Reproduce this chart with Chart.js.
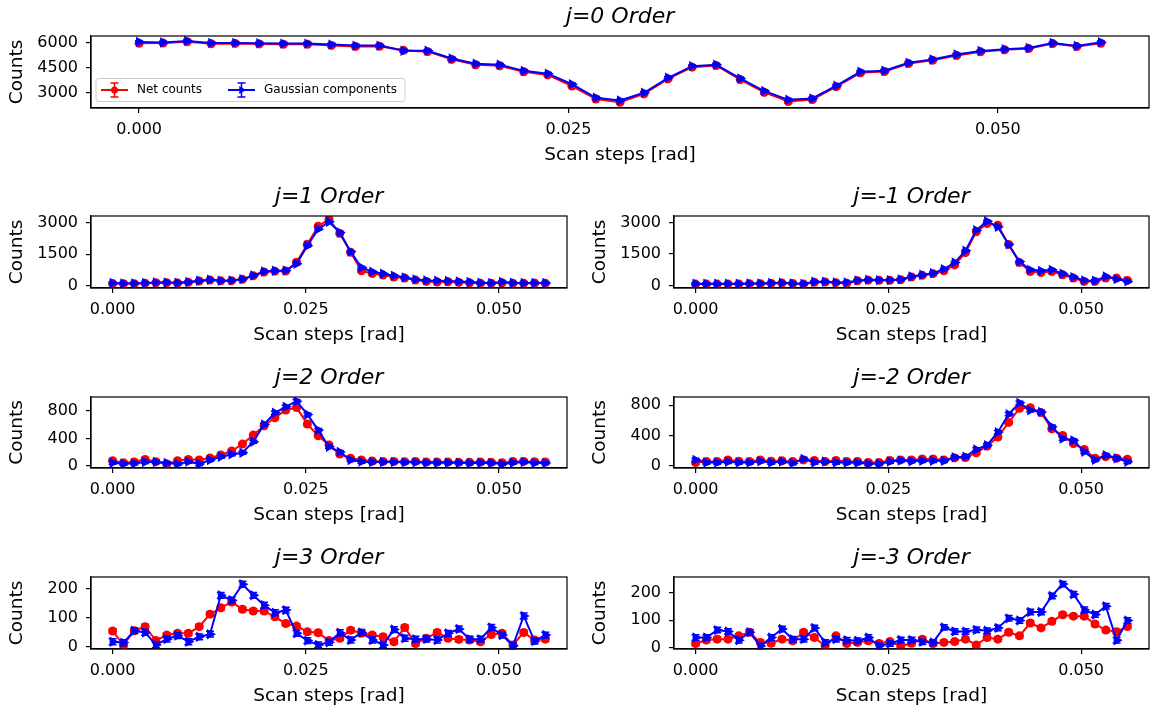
<!DOCTYPE html>
<html>
<head>
<meta charset="utf-8">
<script src="https://cdn.jsdelivr.net/npm/chart.js@4.4.0/dist/chart.umd.min.js"></script>
<style>
    html, body { margin: 0; padding: 0; background: #fff; }
    #wrap { position: relative; width: 1153px; height: 708px; overflow: hidden; }
    #wrap canvas { position: absolute; }
</style>
</head>
<body>
<div id="wrap"></div>
<script>
// scan positions [rad]
const scanSteps = [0, 0.0014, 0.0028, 0.0042, 0.0056, 0.007, 0.0084, 0.0098, 0.0112, 0.0126,
    0.014, 0.0154, 0.0168, 0.0182, 0.0196, 0.021, 0.0224, 0.0238, 0.0252, 0.0266,
    0.028, 0.0294, 0.0308, 0.0322, 0.0336, 0.035, 0.0364, 0.0378, 0.0392, 0.0406,
    0.042, 0.0434, 0.0448, 0.0462, 0.0476, 0.049, 0.0504, 0.0518, 0.0532, 0.0546, 0.056];
const xTickValues = [0, 0.025, 0.05];

const j0Net = [5960, 5970, 6050, 5930, 5950, 5920, 5900, 5900, 5830, 5760, 5780, 5540, 5460, 5000, 4680, 4620, 4260, 4080, 3420, 2650, 2450, 2950, 3840, 4540, 4640, 3800, 3040, 2500, 2620, 3380, 4200, 4280, 4750, 4950, 5230, 5450, 5570, 5650, 5940, 5760, 5960];
const j0Gauss = [6040, 6000, 6100, 5980, 5980, 5960, 5940, 5940, 5880, 5820, 5820, 5510, 5510, 5050, 4740, 4680, 4320, 4145, 3530, 2720, 2560, 3020, 3910, 4600, 4680, 3870, 3120, 2600, 2680, 3440, 4265, 4325, 4800, 4995, 5290, 5505, 5600, 5680, 5975, 5800, 6020];

const j1Net = [100, 90, 95, 110, 140, 140, 130, 160, 220, 270, 230, 240, 300, 470, 650, 690, 700, 1115, 1963, 2827, 3157, 2482, 1586, 707, 581, 503, 408, 361, 267, 204, 173, 188, 157, 141, 110, 110, 141, 110, 110, 126, 110];
const j1Gauss = [126, 110, 110, 126, 157, 157, 141, 173, 236, 283, 236, 251, 314, 487, 675, 707, 722, 1037, 1900, 2686, 3031, 2529, 1618, 864, 660, 565, 471, 393, 298, 251, 236, 220, 204, 173, 141, 126, 173, 141, 126, 126, 126];

const jm1Net = [60, 60, 60, 70, 70, 80, 80, 95, 110, 90, 70, 150, 160, 130, 100, 220, 250, 240, 240, 270, 400, 480, 560, 700, 979, 1563, 2558, 2953, 2874, 1958, 1090, 663, 616, 663, 505, 347, 189, 189, 347, 347, 237];
const jm1Gauss = [79, 79, 79, 79, 79, 95, 95, 110, 126, 95, 79, 174, 174, 142, 142, 237, 268, 253, 253, 284, 426, 505, 584, 774, 1090, 1658, 2637, 3063, 2795, 1958, 1137, 742, 695, 742, 553, 395, 237, 221, 426, 300, 189];

const j2Net = [77, 48, 58, 96, 63, 29, 77, 96, 87, 116, 159, 217, 318, 448, 583, 699, 810, 848, 607, 439, 304, 173, 111, 87, 72, 67, 67, 63, 67, 58, 58, 58, 53, 53, 58, 53, 48, 67, 67, 63, 58];
const j2Gauss = [48, 34, 39, 58, 58, 43, 29, 63, 29, 87, 135, 169, 193, 352, 602, 771, 858, 940, 747, 520, 280, 202, 87, 63, 58, 58, 58, 53, 53, 48, 48, 48, 48, 43, 48, 43, 29, 48, 58, 43, 43];

const jm2Net = [43, 56, 56, 77, 60, 56, 77, 60, 65, 56, 77, 69, 56, 69, 56, 56, 43, 43, 69, 77, 77, 90, 90, 77, 103, 108, 172, 258, 378, 572, 757, 765, 701, 486, 400, 292, 215, 99, 120, 99, 86];
const jm2Gauss = [77, 43, 43, 52, 43, 43, 60, 43, 56, 34, 90, 43, 56, 43, 43, 39, 26, 26, 56, 69, 60, 65, 65, 65, 112, 120, 215, 271, 443, 680, 830, 731, 710, 516, 357, 335, 185, 77, 138, 99, 52];

const j3Net = [54, 6, 55, 69, 21, 40, 46, 46, 69, 112, 134, 154, 129, 123, 123, 103, 80, 71, 51, 48, 21, 29, 57, 46, 40, 34, 17, 66, 11, 29, 49, 29, 25, 23, 17, 42, 46, 6, 49, 23, 26];
const j3Gauss = [17, 14, 55, 49, 6, 26, 38, 17, 34, 43, 177, 160, 215, 177, 143, 117, 126, 46, 21, 6, 15, 48, 23, 49, 23, 6, 59, 29, 26, 26, 23, 46, 61, 26, 26, 66, 40, 3, 106, 19, 40];

const jm3Net = [15, 28, 31, 31, 43, 56, 19, 16, 31, 25, 56, 37, 6, 43, 15, 19, 25, 15, 22, 6, 16, 31, 15, 19, 22, 31, 10, 37, 31, 56, 43, 90, 72, 96, 120, 115, 115, 86, 64, 58, 77];
const jm3Gauss = [37, 37, 64, 59, 27, 56, 6, 37, 68, 31, 31, 72, 19, 31, 27, 25, 37, 6, 15, 28, 28, 21, 19, 74, 59, 59, 65, 62, 72, 107, 99, 130, 130, 189, 232, 195, 138, 121, 151, 27, 99];

// typical error bar half widths per panel (j=0, 1, -1, 2, -2, 3, -3)
const netErr = [75, 45, 45, 22, 22, 8, 8];
const gaussErr = [75, 45, 45, 22, 22, 10, 10];

const FONT = "'DejaVu Sans', sans-serif";
Chart.defaults.font.family = FONT;
Chart.defaults.color = '#000';

// box = [left, top, right, bottom] of the plot area in page pixels
const panels = [
    {title: 'j=0 Order', net: j0Net, gauss: j0Gauss, err: 0, box: [91, 36, 1151, 108], ymin: 2114, ymax: 6390, yticks: [3000, 4500, 6000], legend: true},
    {title: 'j=1 Order', net: j1Net, gauss: j1Gauss, err: 1, box: [91, 216, 569, 288], ymin: -110, ymax: 3310, yticks: [0, 1500, 3000]},
    {title: 'j=-1 Order', net: jm1Net, gauss: jm1Gauss, err: 2, box: [674, 216, 1151, 288], ymin: -126, ymax: 3316, yticks: [0, 1500, 3000]},
    {title: 'j=2 Order', net: j2Net, gauss: j2Gauss, err: 3, box: [91, 397, 569, 468], ymin: -29, ymax: 1000, yticks: [0, 400, 800]},
    {title: 'j=-2 Order', net: jm2Net, gauss: jm2Gauss, err: 4, box: [674, 397, 1151, 468], ymin: -30, ymax: 907, yticks: [0, 400, 800]},
    {title: 'j=3 Order', net: j3Net, gauss: j3Gauss, err: 5, box: [91, 577, 569, 649], ymin: -8, ymax: 240, yticks: [0, 100, 200]},
    {title: 'j=-3 Order', net: jm3Net, gauss: jm3Gauss, err: 6, box: [674, 577, 1151, 649], ymin: -5, ymax: 258, yticks: [0, 100, 200]}
];

function drawTriangle(ctx, x, y, r) {
    ctx.beginPath();
    ctx.moveTo(x + r, y);
    ctx.lineTo(x - r / 2, y - r * 0.866);
    ctx.lineTo(x - r / 2, y + r * 0.866);
    ctx.closePath();
    ctx.fill();
}

// error bars, axes frame and the legend of the top panel
const extrasPlugin = {
    id: 'extras',
    afterDatasetDraw(chart, args) {
        const ds = chart.data.datasets[args.index];
        const yScale = chart.scales.y;
        const ctx = chart.ctx;
        ctx.save();
        ctx.strokeStyle = ds.borderColor;
        ctx.lineWidth = 1.5;
        args.meta.data.forEach((pt, i) => {
            const v = ds.data[i].y;
            const yt = yScale.getPixelForValue(v + ds.errSize);
            const yb = yScale.getPixelForValue(v - ds.errSize);
            ctx.beginPath();
            ctx.moveTo(pt.x, yt); ctx.lineTo(pt.x, yb);
            ctx.moveTo(pt.x - 4, yt); ctx.lineTo(pt.x + 4, yt);
            ctx.moveTo(pt.x - 4, yb); ctx.lineTo(pt.x + 4, yb);
            ctx.stroke();
        });
        ctx.restore();
    },
    afterDraw(chart, args, opts) {
        const ctx = chart.ctx;
        const a = chart.chartArea;
        ctx.save();
        ctx.strokeStyle = '#000';
        ctx.lineWidth = 1.2;
        ctx.strokeRect(a.left, a.top, a.right - a.left, a.bottom - a.top);
        if (opts.legend) {
            const lx = a.left + 5, ly = a.bottom - 29.5, lw = 309, lh = 23;
            ctx.beginPath();
            ctx.roundRect(lx, ly, lw, lh, 3);
            ctx.fillStyle = 'rgba(255,255,255,0.8)';
            ctx.fill();
            ctx.strokeStyle = '#cccccc';
            ctx.lineWidth = 1;
            ctx.stroke();
            const cy = ly + lh / 2;
            const items = [
                {label: 'Net counts', color: '#ff0000', x0: lx + 5, marker: 'circle'},
                {label: 'Gaussian components', color: '#0000ff', x0: lx + 132, marker: 'triangle'}
            ];
            items.forEach(it => {
                const xm = it.x0 + 13.5;
                ctx.strokeStyle = it.color;
                ctx.fillStyle = it.color;
                ctx.lineWidth = 2;
                ctx.beginPath();
                ctx.moveTo(it.x0, cy); ctx.lineTo(it.x0 + 27, cy);
                ctx.stroke();
                ctx.lineWidth = 1.5;
                ctx.beginPath();
                ctx.moveTo(xm, cy - 7); ctx.lineTo(xm, cy + 7);
                ctx.moveTo(xm - 4, cy - 7); ctx.lineTo(xm + 4, cy - 7);
                ctx.moveTo(xm - 4, cy + 7); ctx.lineTo(xm + 4, cy + 7);
                ctx.stroke();
                if (it.marker === 'circle') {
                    ctx.beginPath();
                    ctx.arc(xm, cy, 3.5, 0, Math.PI * 2);
                    ctx.fill();
                } else {
                    drawTriangle(ctx, xm, cy, 4.5);
                }
                ctx.fillStyle = '#000';
                ctx.font = '12px ' + FONT;
                ctx.textBaseline = 'middle';
                ctx.textAlign = 'left';
                ctx.fillText(it.label, it.x0 + 36, cy);
            });
        }
        ctx.restore();
    }
};

const wrap = document.getElementById('wrap');
const L = 85, R = 4, T = 32, B = 58;
const TITLE_SIZE = 22;

function makePanel(p) {
    const w = p.box[2] - p.box[0] + L + R;
    const h = p.box[3] - p.box[1] + T + B;
    const canvas = document.createElement('canvas');
    canvas.width = w;
    canvas.height = h;
    canvas.style.left = (p.box[0] - L) + 'px';
    canvas.style.top = (p.box[1] - T) + 'px';
    canvas.style.width = w + 'px';
    canvas.style.height = h + 'px';
    wrap.appendChild(canvas);

    const axisCommon = {
        grid: {drawOnChartArea: false, drawTicks: true, tickLength: 5, color: '#000', tickColor: '#000', lineWidth: 1.2},
        border: {display: true, color: '#000', width: 1.2}
    };

    new Chart(canvas, {
        type: 'line',
        data: {
            datasets: [
                {
                    label: 'Net counts',
                    data: scanSteps.map((x, i) => ({x: x, y: p.net[i]})),
                    errSize: netErr[p.err],
                    borderColor: '#ff0000',
                    backgroundColor: '#ff0000',
                    borderWidth: 2,
                    pointStyle: 'circle',
                    pointRadius: 4.5,
                    pointBorderWidth: 0,
                    tension: 0,
                    order: 2
                },
                {
                    label: 'Gaussian components',
                    data: scanSteps.map((x, i) => ({x: x, y: p.gauss[i]})),
                    errSize: gaussErr[p.err],
                    borderColor: '#0000ff',
                    backgroundColor: '#0000ff',
                    borderWidth: 2,
                    pointStyle: 'triangle',
                    pointRotation: 90,
                    pointRadius: 6,
                    pointBorderWidth: 0,
                    tension: 0,
                    order: 1
                }
            ]
        },
        options: {
            responsive: false,
            animation: false,
            devicePixelRatio: 1,
            layout: {padding: {left: 0, right: R, top: 0, bottom: 0}},
            plugins: {
                legend: {display: false},
                tooltip: {enabled: false},
                title: {
                    display: true,
                    text: p.title,
                    fullSize: false,
                    color: '#000',
                    font: {family: FONT, size: TITLE_SIZE, style: 'italic', weight: 'normal', lineHeight: 1.2},
                    padding: {top: 0, bottom: T - TITLE_SIZE * 1.2}
                },
                extras: {legend: !!p.legend}
            },
            scales: {
                x: Object.assign({
                    type: 'linear',
                    min: -0.0028,
                    max: 0.0588,
                    afterBuildTicks: s => { s.ticks = xTickValues.map(v => ({value: v})); },
                    afterFit: s => { s.height = B; },
                    ticks: {font: {size: 16}, color: '#000', padding: 7, maxRotation: 0, autoSkip: false,
                        callback: v => v.toFixed(3)},
                    title: {display: true, text: 'Scan steps [rad]', color: '#000', font: {size: 18.5}, padding: {top: 0, bottom: 0}}
                }, axisCommon),
                y: Object.assign({
                    min: p.ymin,
                    max: p.ymax,
                    afterBuildTicks: s => { s.ticks = p.yticks.map(v => ({value: v})); },
                    afterFit: s => { s.width = L; },
                    ticks: {font: {size: 16}, color: '#000', padding: 8, autoSkip: false,
                        callback: v => String(v)},
                    title: {display: true, text: 'Counts', color: '#000', font: {size: 18.5}, padding: {top: 0, bottom: 0}}
                }, axisCommon)
            }
        },
        plugins: [extrasPlugin]
    });
}

panels.forEach(makePanel);
</script>
</body>
</html>
